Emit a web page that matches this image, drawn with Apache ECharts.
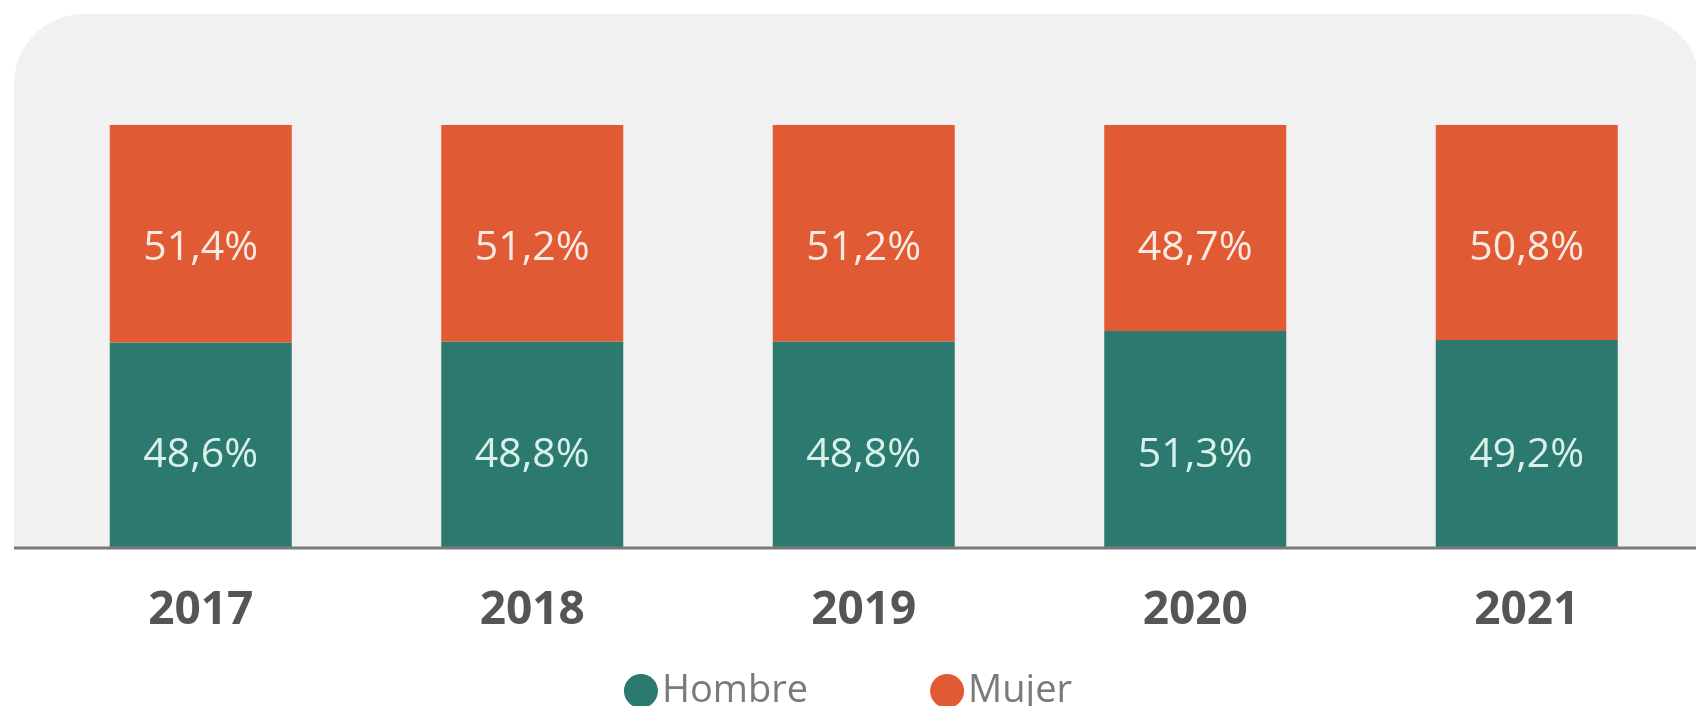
<!DOCTYPE html>
<html>
<head>
<meta charset="utf-8">
<script src="https://cdn.jsdelivr.net/npm/echarts@6/dist/echarts.min.js"></script>
<style>
html,body{margin:0;padding:0;background:#ffffff;}
#chart{width:1696px;height:706px;}
</style>
</head>
<body>
<div id="chart"></div>
<script>
const categories = ['2017', '2018', '2019', '2020', '2021'];
const hombre = [48.6, 48.8, 48.8, 51.3, 49.2];
const mujer = [51.4, 51.2, 51.2, 48.7, 50.8];
const seriesNames = ['Hombre', 'Mujer'];

const FONT = 'Open Sans';
const fmt = p => p.value.toFixed(1).replace('.', ',') + '%';

const chart = echarts.init(document.getElementById('chart'));
chart.setOption({
  backgroundColor: '#ffffff',
  animation: false,
  graphic: [
    {
      type: 'rect', z: -10, silent: true,
      shape: { x: 14, y: 14, width: 1686, height: 534, r: [70, 70, 0, 0] },
      style: { fill: '#f1f1f1' }
    },
    {
      type: 'line', z: 100, silent: true,
      shape: { x1: 14, y1: 548, x2: 1696, y2: 548 },
      style: { stroke: '#7a7a7a', lineWidth: 3 }
    }
  ],
  grid: { left: 35, right: 3.5, top: 125, bottom: 158, containLabel: false },
  legend: {
    data: seriesNames,
    left: 'center',
    top: 667,
    icon: 'circle',
    itemWidth: 34,
    itemHeight: 34,
    itemGap: 122,
    textStyle: { fontFamily: FONT, fontSize: 38, color: '#7a7a7a', padding: [0, 0, 0, -1] }
  },
  xAxis: {
    type: 'category',
    data: categories,
    axisLine: { show: false },
    axisTick: { show: false },
    axisLabel: { margin: 40, fontFamily: FONT, fontSize: 46, fontWeight: 'bold', color: '#555555' }
  },
  yAxis: {
    type: 'value', min: 0, max: 100,
    show: false,
    splitLine: { show: false }
  },
  series: [
    {
      name: seriesNames[0], type: 'bar', stack: 'total', barWidth: 182,
      data: hombre,
      itemStyle: { color: '#2c7a6f' },
      label: {
        show: true, formatter: fmt,
        position: ['50%', '100%'], offset: [0, -93],
        align: 'center', verticalAlign: 'middle',
        fontFamily: FONT, fontSize: 41, color: '#d8f2ea'
      }
    },
    {
      name: seriesNames[1], type: 'bar', stack: 'total', barWidth: 182,
      data: mujer,
      itemStyle: { color: '#e05a34' },
      label: {
        show: true, formatter: fmt,
        position: ['50%', 123],
        align: 'center', verticalAlign: 'middle',
        fontFamily: FONT, fontSize: 41, color: '#fbeae3'
      }
    }
  ]
});
</script>
</body>
</html>
